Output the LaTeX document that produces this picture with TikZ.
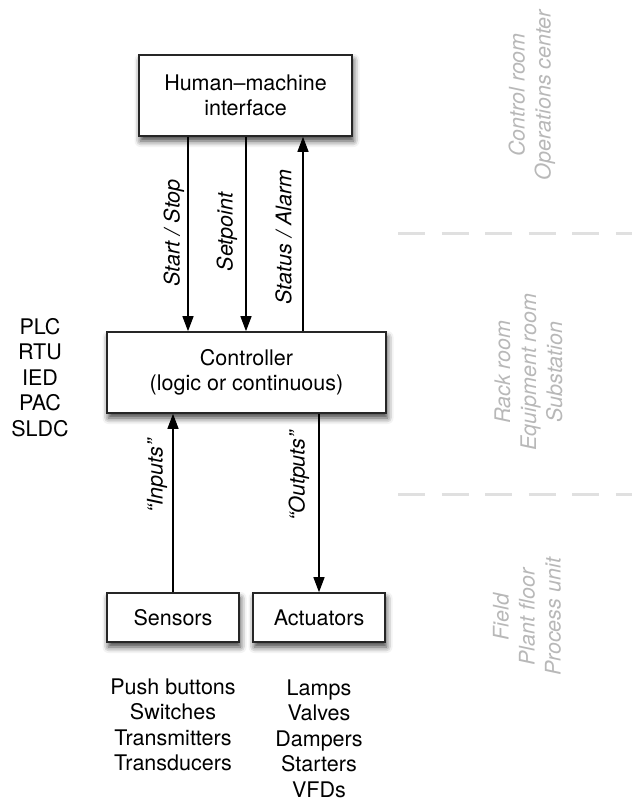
\documentclass[tikz,border=0pt]{standalone}
\usepackage{fontspec}
\setmainfont{TeX Gyre Heros}
\usetikzlibrary{arrows.meta,shadows.blur}
\begin{document}
\begin{tikzpicture}[x=1bp,y=1bp,
  txt/.style={font=\fontsize{21.5bp}{25.5bp}\selectfont, align=center, inner sep=0},
  lbl/.style={font=\fontsize{21.5bp}{25.5bp}\selectfont\itshape, inner sep=0},
  zone/.style={font=\fontsize{21.5bp}{26bp}\selectfont\itshape, text=black!28, align=center, inner sep=0},
  box/.style={txt, draw=black!85, line width=1.6bp, fill=white,
    blur shadow={shadow xshift=1.5bp, shadow yshift=-5bp, shadow blur radius=6bp, shadow opacity=75}},
  arr/.style={line width=1.3bp, -{Triangle[length=15bp,width=11bp]}},
  sep/.style={draw=black!12, line width=3bp, dash pattern=on 27bp off 16.5bp}
]
\useasboundingbox (0,-801) rectangle (632,0);

% zone separators
\draw[sep] (398,-233) -- (632,-233);
\draw[sep] (398,-494) -- (632,-494);

% boxes
\node[box, minimum width=213bp, minimum height=81bp] (hmi) at (245.5,-95.5) {Human–machine\\interface};
\node[box, minimum width=279bp, minimum height=81bp] (ctrl) at (246.5,-372.5) {Controller\\(logic or continuous)};
\node[box, minimum width=132bp, minimum height=49bp] (sens) at (173,-617.5) {Sensors};
\node[box, minimum width=132bp, minimum height=49bp] (act) at (319,-617.5) {Actuators};

% connectors
\draw[arr] ([xshift=-57.5bp]hmi.south) -- ([xshift=-57.5bp]hmi.south |- ctrl.north);
\draw[arr] ([xshift=0.5bp]hmi.south) -- ([xshift=0.5bp]hmi.south |- ctrl.north);
\draw[arr] ([xshift=57.5bp]hmi.south |- ctrl.north) -- ([xshift=57.5bp]hmi.south);
\draw[arr] (sens.north) -- (sens.north |- ctrl.south);
\draw[arr] (act.north |- ctrl.south) -- (act.north);

% connector labels
\node[lbl, rotate=90] (lstart) at (174,-233) {Start / Stop};
\node[lbl, rotate=90] (lset) at (227,-232) {Setpoint};
\node[lbl, rotate=90] (lstat) at (283.5,-237) {Status / Alarm};
\node[lbl, rotate=90] (lin) at (157,-476) {“Inputs”};
\node[lbl, rotate=90] (lout) at (299,-476) {“Outputs”};

% lists
\node[txt] (types) at (40,-377.5) {PLC\\RTU\\IED\\PAC\\SLDC};
\node[txt] (slist) at (173,-725) {Push buttons\\Switches\\Transmitters\\Transducers};
\node[txt] (alist) at (319,-738.5) {Lamps\\Valves\\Dampers\\Starters\\VFDs};

% zones
\node[zone, rotate=90] (z1) at (532,-95) {Control room\\Operations center};
\node[zone, rotate=90] (z2) at (528.5,-372) {Rack room\\Equipment room\\Substation};
\node[zone, rotate=90] (z3) at (527,-617) {Field\\Plant floor\\Process unit};
\end{tikzpicture}
\end{document}
